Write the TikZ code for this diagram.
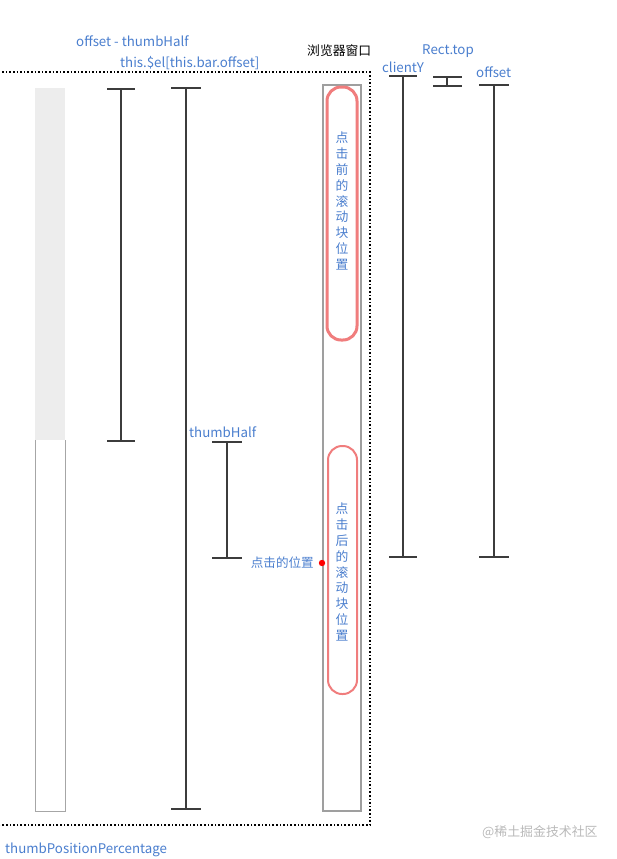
\documentclass[tikz,border=0pt]{standalone}
\usepackage{fontspec}
\setmainfont{Noto Sans CJK SC}
\newfontfamily\cjk{Noto Sans CJK SC}
\definecolor{lblue}{RGB}{74,126,206}
\definecolor{thumbred}{RGB}{240,125,125}
\definecolor{barline}{RGB}{60,60,60}
\begin{document}
\begin{tikzpicture}[x=1pt,y=-1pt,
  lbl/.style={text=lblue,font=\fontsize{13.3}{15}\selectfont,inner sep=0pt},
  brk/.style={draw=barline,line width=1.6pt},
  vtext/.style={text=lblue,font=\fontsize{12.8}{15.8}\selectfont,align=center,inner sep=0pt}]
\useasboundingbox (0,0) rectangle (617,859);
% dotted window
\draw[dotted,line width=1.6pt,black] (-5,72) -- (370,72) -- (370,825) -- (-5,825);
% textured thumb column
\fill[gray!14] (35,88) rectangle (65,440);
\draw[gray!70,line width=0.5pt] (35,440) -- (35,811) -- (65,811) -- (65,440);
% brackets
\coordinate (b1t) at (121,89); \coordinate (b1b) at (121,441);
\draw[brk] (b1t) -- (b1b) (107,89) -- (135,89) (107,441) -- (135,441);
\coordinate (b2t) at (186,88); \coordinate (b2b) at (186,809);
\draw[brk] (b2t) -- (b2b) (171,88) -- (201,88) (171,809) -- (201,809);
\coordinate (b3t) at (227,442); \coordinate (b3b) at (227,558);
\draw[brk] (b3t) -- (b3b) (212,442) -- (242,442) (212,558) -- (242,558);
\coordinate (b4t) at (403,76); \coordinate (b4b) at (403,557);
\draw[brk] (b4t) -- (b4b) (389,76) -- (417,76) (389,557) -- (417,557);
\coordinate (b5t) at (447,77); \coordinate (b5b) at (447,86);
\draw[brk] (b5t) -- (b5b) (433,77) -- (462,77) (433,86) -- (462,86);
\coordinate (b6t) at (494,85); \coordinate (b6b) at (494,557);
\draw[brk] (b6t) -- (b6b) (479,85) -- (509,85) (479,557) -- (509,557);
% scrollbar track
\draw[gray!75,line width=1.8pt] (323,85) rectangle (361,811);
% thumbs
\draw[thumbred,line width=3pt,rounded corners=14pt,fill=white] (327,87) rectangle (357,340);
\draw[thumbred,line width=2pt,rounded corners=14pt,fill=white] (328,446) rectangle (357,694);
\node[vtext] (before) at (342,201) {点\\击\\前\\的\\滚\\动\\块\\位\\置};
\node[vtext] (after) at (342,572) {点\\击\\后\\的\\滚\\动\\块\\位\\置};
% click point
\fill[red] (322,563) circle (3.2pt);
\node[lbl,anchor=east,font=\fontsize{12.6}{15}\selectfont] (click) at (314,563) {点击的位置};
% labels
\node[lbl,anchor=west] (l1) at (76,41) {offset - thumbHalf};
\node[lbl,anchor=west] (l2) at (120,63) {this.\$el[this.bar.offset]};
\node[inner sep=0pt,anchor=west,font=\fontsize{12.8}{15}\selectfont] (win) at (307,51) {浏览器窗口};
\node[lbl,anchor=west] (cy) at (382,67) {clientY};
\node[lbl,anchor=west] (rt) at (422,51) {Rect.top};
\node[lbl,anchor=west] (off) at (476,72) {offset};
\node[lbl,anchor=west] (th) at (189,432) {thumbHalf};
\node[lbl,anchor=west] (tpp) at (5,850) {thumbPositionPercentage};
\node[inner sep=0pt,anchor=west,text=gray!55,font=\fontsize{12.9}{15}\selectfont] (wm) at (482,832) {@稀土掘金技术社区};
\end{tikzpicture}
\end{document}
